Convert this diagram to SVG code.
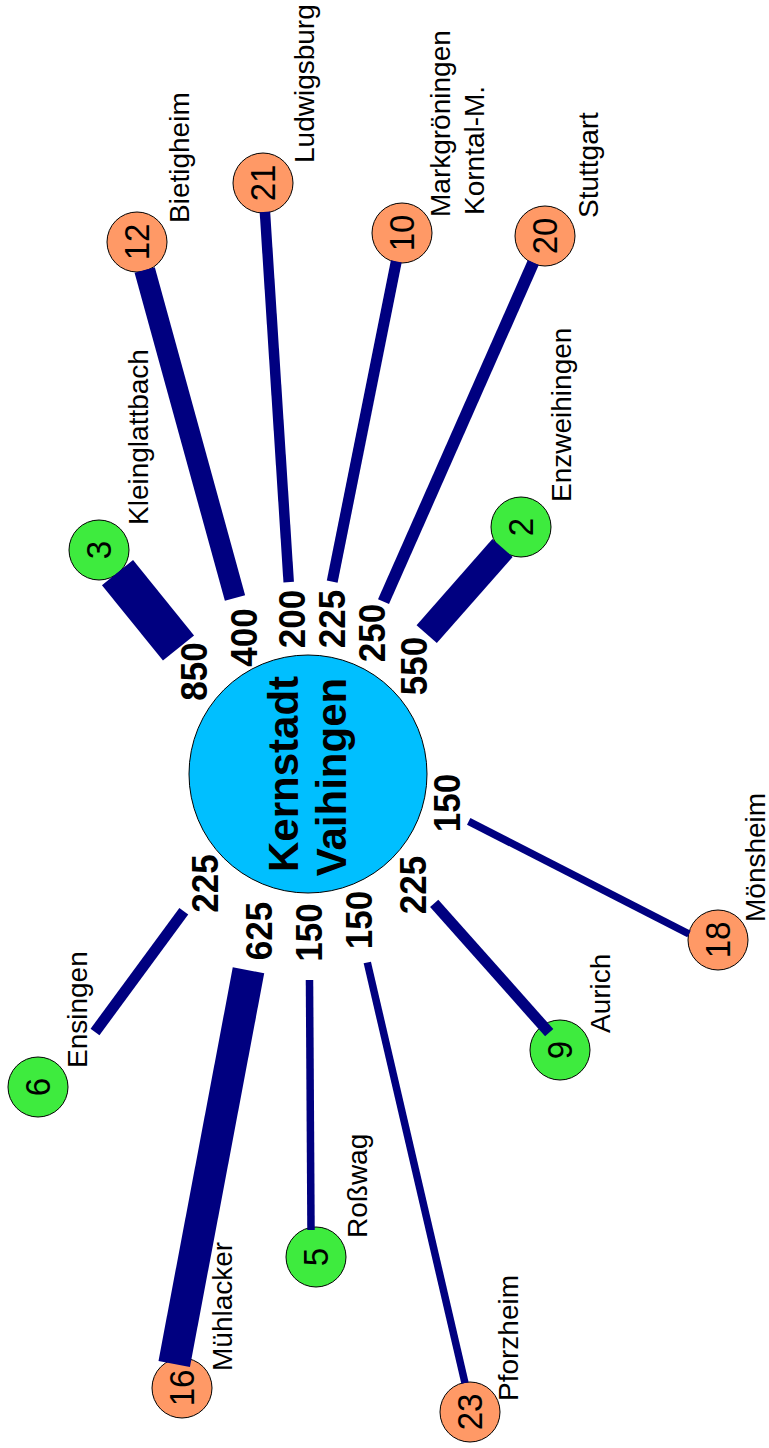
<svg xmlns="http://www.w3.org/2000/svg" width="769" height="1448" viewBox="0 0 769 1448">
<style>
.c{stroke:#000;stroke-width:1}
.o{fill:#FF9966}
.g{fill:#3EEB3E}
.n{font-family:"Liberation Sans",Arial,sans-serif;font-size:33px;fill:#000;text-anchor:middle}
.lab{font-family:"Liberation Sans",Arial,sans-serif;font-size:28px;fill:#000}
.num{font-family:"Liberation Sans",Arial,sans-serif;font-size:35px;font-weight:bold;fill:#000;text-anchor:middle}
.big{font-family:"Liberation Sans",Arial,sans-serif;font-size:42px;font-weight:bold;fill:#000;text-anchor:middle}
#connectors line{stroke:#000080;stroke-linecap:butt}
</style>
<rect width="769" height="1448" fill="#fff"/>
<g id="center">
<circle class="c" cx="308" cy="774" r="119" fill="#00BFFF"/>
<text class="big" transform="translate(298,774) rotate(-90)">Kernstadt</text>
<text class="big" transform="translate(346,777) rotate(-90)">Vaihingen</text>
</g>
<g id="n3"><circle class="c g" cx="99" cy="550" r="30"/><text class="n" transform="translate(111,550) rotate(-90) scale(1,1.06)">3</text><text class="lab" transform="translate(148,525) rotate(-90)">Kleinglattbach</text></g>
<g id="n12"><circle class="c o" cx="137" cy="242" r="30"/><text class="n" transform="translate(149,242) rotate(-90) scale(1,1.06)">12</text><text class="lab" transform="translate(189,223) rotate(-90)">Bietigheim</text></g>
<g id="n21"><circle class="c o" cx="263" cy="183" r="30"/><text class="n" transform="translate(275,183) rotate(-90) scale(1,1.06)">21</text><text class="lab" transform="translate(314,163) rotate(-90)">Ludwigsburg</text></g>
<g id="n10"><circle class="c o" cx="402" cy="233" r="30"/><text class="n" transform="translate(414,233) rotate(-90) scale(1,1.06)">10</text><text class="lab" transform="translate(450,217) rotate(-90)">Markgröningen</text><text class="lab" transform="translate(484,215) rotate(-90)">Korntal-M.</text></g>
<g id="n20"><circle class="c o" cx="545" cy="236" r="30"/><text class="n" transform="translate(557,236) rotate(-90) scale(1,1.06)">20</text><text class="lab" transform="translate(598,218) rotate(-90)">Stuttgart</text></g>
<g id="n2"><circle class="c g" cx="521" cy="527" r="30"/><text class="n" transform="translate(533,527) rotate(-90) scale(1,1.06)">2</text><text class="lab" transform="translate(571,502) rotate(-90)">Enzweihingen</text></g>
<g id="n18"><circle class="c o" cx="718" cy="940" r="30"/><text class="n" transform="translate(730,940) rotate(-90) scale(1,1.06)">18</text><text class="lab" transform="translate(765,922) rotate(-90)">Mönsheim</text></g>
<g id="n9"><circle class="c g" cx="560" cy="1050" r="30"/><text class="n" transform="translate(572,1050) rotate(-90) scale(1,1.06)">9</text><text class="lab" transform="translate(610,1033) rotate(-90)">Aurich</text></g>
<g id="n6"><circle class="c g" cx="38" cy="1087" r="30"/><text class="n" transform="translate(50,1087) rotate(-90) scale(1,1.06)">6</text><text class="lab" transform="translate(87,1068) rotate(-90)">Ensingen</text></g>
<g id="n5"><circle class="c g" cx="316" cy="1257" r="30"/><text class="n" transform="translate(328,1257) rotate(-90) scale(1,1.06)">5</text><text class="lab" transform="translate(367,1238) rotate(-90)">Roßwag</text></g>
<g id="n16"><circle class="c o" cx="182" cy="1388" r="30"/><text class="n" transform="translate(194,1388) rotate(-90) scale(1,1.06)">16</text><text class="lab" transform="translate(232,1371) rotate(-90)">Mühlacker</text></g>
<g id="n23"><circle class="c o" cx="470" cy="1412" r="30"/><text class="n" transform="translate(482,1412) rotate(-90) scale(1,1.06)">23</text><text class="lab" transform="translate(518,1401) rotate(-90)">Pforzheim</text></g>
<g id="connectors">
<line x1="178.5" y1="648" x2="117.5" y2="572.6" stroke-width="40"/>
<line x1="235" y1="598" x2="144.7" y2="270" stroke-width="21"/>
<line x1="288.7" y1="582.2" x2="264.9" y2="211.9" stroke-width="10.5"/>
<line x1="332.2" y1="581.7" x2="396.3" y2="261.4" stroke-width="11"/>
<line x1="383.5" y1="601.7" x2="533.3" y2="262.5" stroke-width="12"/>
<line x1="426.7" y1="634.2" x2="502.5" y2="548" stroke-width="27"/>
<line x1="183.8" y1="911.2" x2="95" y2="1032" stroke-width="11"/>
<line x1="248.5" y1="970.3" x2="174.2" y2="1364" stroke-width="32"/>
<line x1="309.5" y1="980" x2="311" y2="1230" stroke-width="7.5"/>
<line x1="367.3" y1="962.5" x2="465" y2="1383" stroke-width="7.5"/>
<line x1="434.2" y1="903.3" x2="549.2" y2="1032.7" stroke-width="11"/>
<line x1="468.7" y1="821.3" x2="689" y2="934" stroke-width="7.5"/>
</g>
<g id="values">
<text class="num" transform="translate(207,671.5) rotate(-90) scale(1,1.07)">850</text>
<text class="num" transform="translate(256.7,637.5) rotate(-90) scale(1,1.07)">400</text>
<text class="num" transform="translate(305,619) rotate(-90) scale(1,1.07)">200</text>
<text class="num" transform="translate(345,619) rotate(-90) scale(1,1.07)">225</text>
<text class="num" transform="translate(385,633) rotate(-90) scale(1,1.07)">250</text>
<text class="num" transform="translate(427,666) rotate(-90) scale(1,1.07)">550</text>
<text class="num" transform="translate(218,883.5) rotate(-90) scale(1,1.07)">225</text>
<text class="num" transform="translate(271.7,931) rotate(-90) scale(1,1.07)">625</text>
<text class="num" transform="translate(321.7,932.5) rotate(-90) scale(1,1.07)">150</text>
<text class="num" transform="translate(371.7,920) rotate(-90) scale(1,1.07)">150</text>
<text class="num" transform="translate(426,885) rotate(-90) scale(1,1.07)">225</text>
<text class="num" transform="translate(460,803) rotate(-90) scale(1,1.07)">150</text>
</g>
</svg>
